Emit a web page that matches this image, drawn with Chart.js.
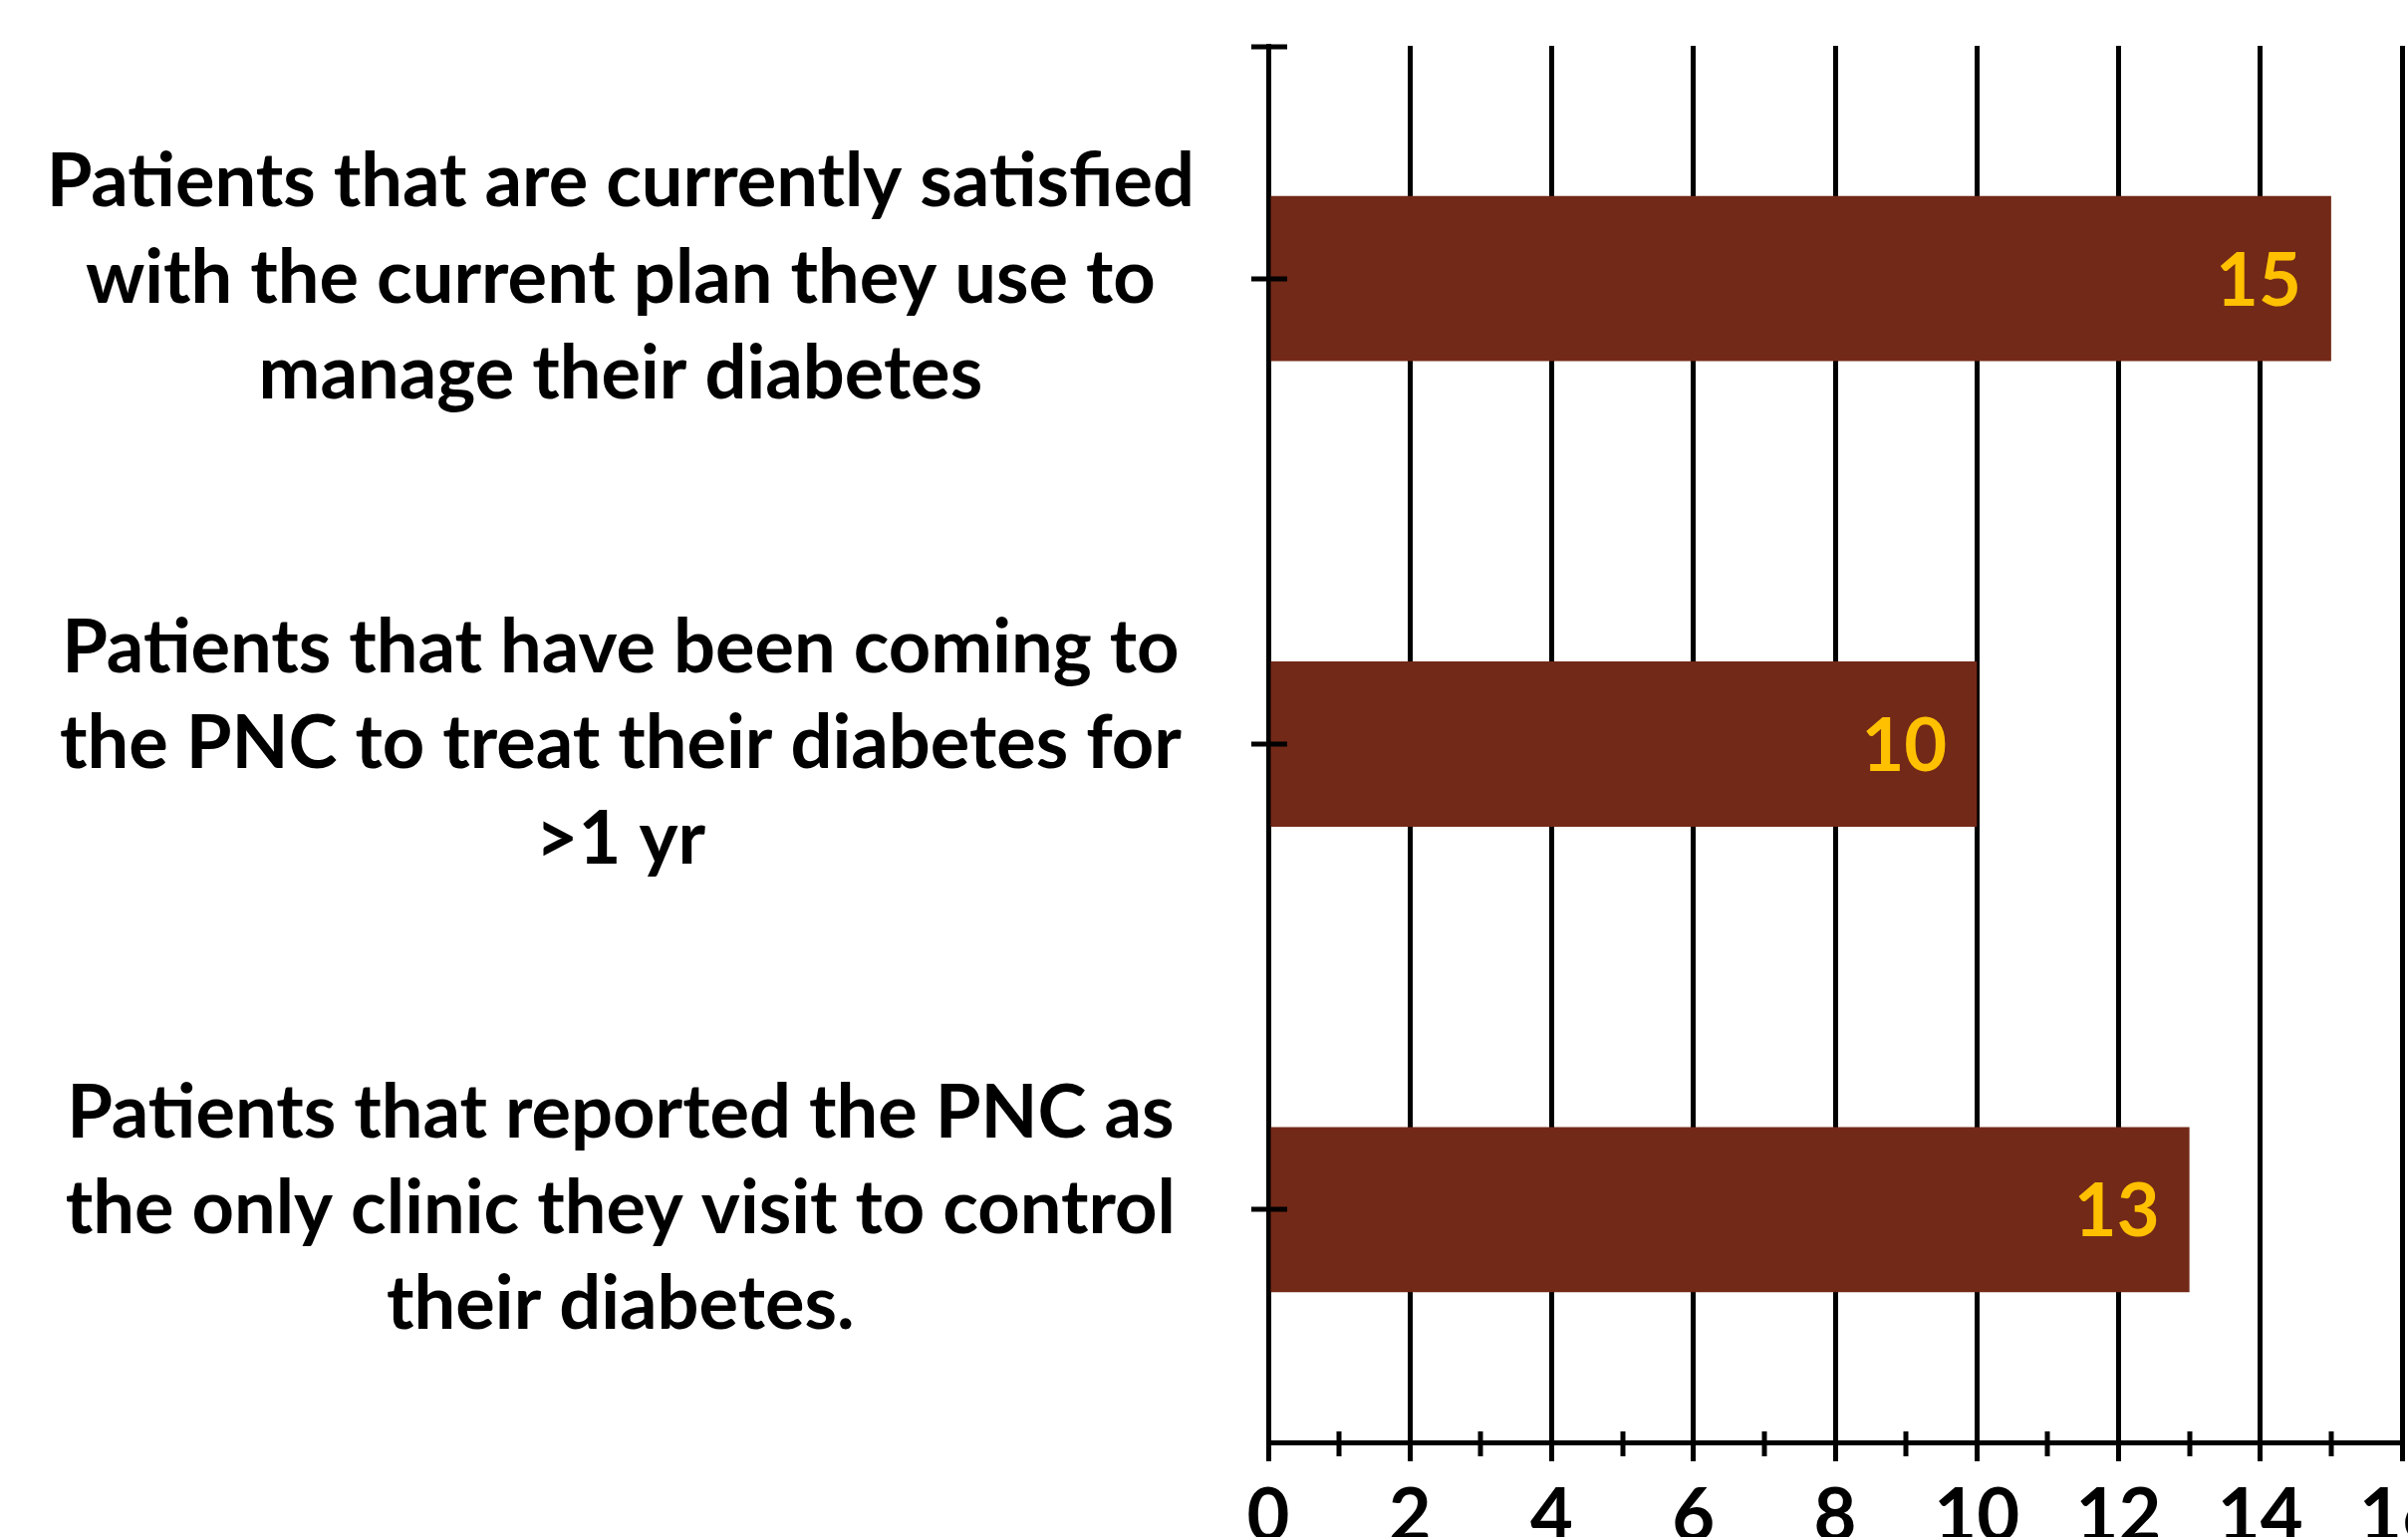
<!DOCTYPE html>
<html>
<head>
<meta charset="utf-8">
<script src="https://cdn.jsdelivr.net/npm/chart.js@4.4.1/dist/chart.umd.min.js"></script>
<style>
  html, body { margin: 0; padding: 0; background: #fff; }
  #wrap { width: 2417px; height: 1543px; position: relative; }
</style>
</head>
<body>
<div id="wrap"><canvas id="pnc-chart"></canvas></div>
<script>
const categories = [
  ['Patients that are currently satisfied', 'with the current plan they use to', 'manage their diabetes'],
  ['Patients that have been coming to', 'the PNC to treat their diabetes for', '>1 yr'],
  ['Patients that reported the PNC as', 'the only clinic they visit to control', 'their diabetes.'],
];
const patientCounts = [15, 10, 13];
const axisMin = 0;
const axisMax = 16;
const labelEvery = 2;

const BAR_COLOR = '#732917';
const VALUE_COLOR = '#FFC000';
const FONT = 'Lato, "Open Sans", sans-serif';
const FONT_SIZE = 74;

const isMajor = (v) => v % labelEvery === 0;

// numbers inside the end of each bar
const valueLabels = {
  id: 'valueLabels',
  afterDatasetsDraw(chart) {
    const { ctx } = chart;
    const meta = chart.getDatasetMeta(0);
    ctx.save();
    ctx.font = `bold ${FONT_SIZE}px ${FONT}`;
    ctx.fillStyle = VALUE_COLOR;
    ctx.textAlign = 'right';
    ctx.textBaseline = 'middle';
    meta.data.forEach((bar, i) => {
      ctx.fillText(String(patientCounts[i]), bar.x - 30, bar.y + 3);
    });
    ctx.restore();
  },
};

// Excel-style tick marks that cross the axis lines
const crossTicks = {
  id: 'crossTicks',
  afterDraw(chart) {
    const { ctx, chartArea } = chart;
    const x = chart.scales.x;
    const y = chart.scales.y;
    ctx.save();
    ctx.strokeStyle = '#000';
    ctx.lineWidth = 5;
    ctx.beginPath();
    const ys = [chartArea.top + 1, ...y.ticks.map((t, i) => y.getPixelForTick(i))];
    ys.forEach((py) => {
      ctx.moveTo(chartArea.left - 17, Math.round(py));
      ctx.lineTo(chartArea.left + 19, Math.round(py));
    });
    x.ticks.forEach((t) => {
      if (isMajor(t.value)) return;
      const px = Math.round(x.getPixelForValue(t.value));
      ctx.moveTo(px, chartArea.bottom - 11);
      ctx.lineTo(px, chartArea.bottom + 14);
    });
    ctx.stroke();
    ctx.restore();
  },
};

const ctx = document.getElementById('pnc-chart').getContext('2d');
new Chart(ctx, {
  type: 'bar',
  data: {
    labels: categories,
    datasets: [
      {
        data: patientCounts,
        backgroundColor: BAR_COLOR,
        borderWidth: 0,
        categoryPercentage: 1,
        barPercentage: 0.355,
      },
    ],
  },
  options: {
    indexAxis: 'y',
    responsive: true,
    maintainAspectRatio: false,
    animation: false,
    layout: { padding: { top: 46, right: 6, bottom: 0, left: 0 } },
    plugins: {
      legend: { display: false },
      tooltip: { enabled: false },
    },
    scales: {
      x: {
        min: axisMin,
        max: axisMax,
        ticks: {
          stepSize: 1,
          autoSkip: false,
          maxRotation: 0,
          padding: 12,
          color: '#000',
          font: { family: FONT, size: FONT_SIZE, weight: 'bold', lineHeight: 1.2 },
          callback: (v) => (isMajor(v) ? v : ''),
        },
        grid: {
          color: (c) => (c.tick && isMajor(c.tick.value) ? '#000' : 'rgba(0,0,0,0)'),
          tickColor: (c) => (c.tick && isMajor(c.tick.value) ? '#000' : 'rgba(0,0,0,0)'),
          lineWidth: 5,
          tickWidth: 5,
          tickLength: 19,
        },
        border: { display: true, color: '#000', width: 5 },
        afterFit: (s) => {
          s.height = 95;
          s.paddingLeft = 0;
          s.paddingRight = 0;
        },
      },
      y: {
        z: 1,
        ticks: {
          crossAlign: 'center',
          padding: 74,
          color: '#000',
          font: { family: FONT, size: FONT_SIZE, weight: 'bold', lineHeight: 1.3 },
        },
        grid: { display: true, drawOnChartArea: false, drawTicks: false },
        border: { display: true, color: '#000', width: 5 },
        afterFit: (s) => {
          s.width = 1273;
          s.paddingTop = 0;
          s.paddingBottom = 0;
        },
      },
    },
  },
  plugins: [valueLabels, crossTicks],
});
</script>
</body>
</html>
